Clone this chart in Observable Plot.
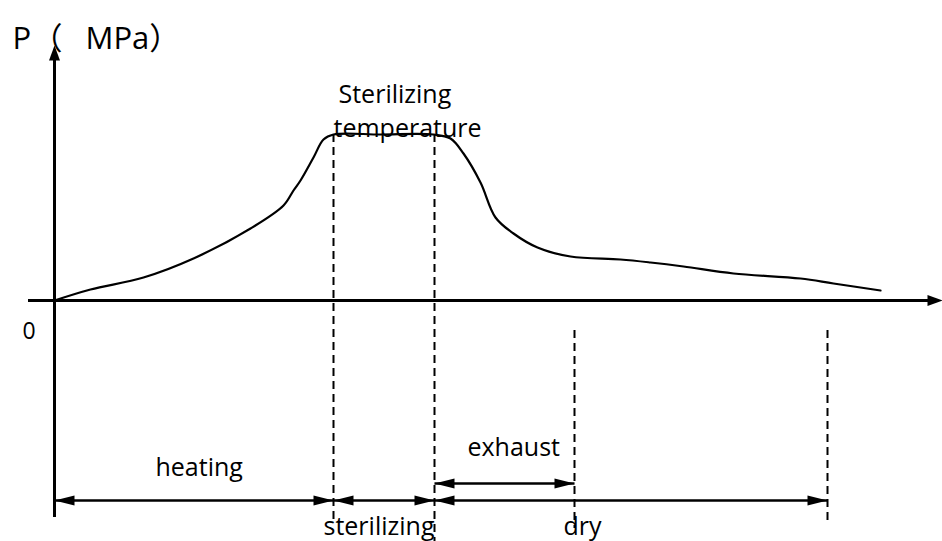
<!DOCTYPE html>
<html><head><meta charset="utf-8">
<script src="https://cdn.jsdelivr.net/npm/d3@7"></script>
<script src="https://cdn.jsdelivr.net/npm/@observablehq/plot@0.6"></script>
<style>body{margin:0;background:#fff} svg{display:block}</style>
</head><body><div id="chart"></div>
<script>
// Pressure curve (time units, pressure units; schematic)
const curveT = [0, 36, 89, 139, 196, 229, 239, 246, 259, 269, 279, 326, 379, 396, 409, 426, 441, 459, 483, 516, 566, 596, 629, 679, 746, 779, 826];
const curveP = [0, 11, 23, 42, 72, 95, 110, 120, 143, 161, 166, 166, 166, 162, 147, 118, 83, 67, 53, 44, 41, 38, 34, 27, 22, 17, 10];

// Phase boundaries (dashed guide lines)
const guideT    = [279, 380, 520, 773];
const guideTop  = [166, 166, -30, -30];
const guideBot  = [-222, -241, -228, -222];

// Phase spans (double-headed arrows)
const phaseNames = ["heating", "sterilizing", "dry", "exhaust"];
const phaseStart = [0, 279, 380, 380];
const phaseEnd   = [279, 380, 773, 520];
const phaseLevel = [-200, -200, -200, -183];

// Axis extents
const xAxisExtent = [-26, 888];
const yAxisExtent = [-217, 255];

// Text labels
const labelText = ["P", "（", "MPa）", "0", "Sterilizing", "temperature", "heating", "exhaust", "sterilizing", "dry"];
const labelX    = [-42, -23, 31, -32, 284, 279, 101, 413, 269, 509];
const labelY    = [252, 252, 252, -38, 198, 164, -175, -155, -234, -234];
const labelSize = [31, 31, 31, 23, 25, 25, 25, 25, 25, 25];

const curve = curveT.map((t, i) => ({t, p: curveP[i]}));
const guides = guideT.map((t, i) => ({t, y1: guideTop[i], y2: guideBot[i]}));
const spans = phaseNames.map((n, i) => ({n, x1: phaseStart[i], x2: phaseEnd[i], y: phaseLevel[i]}));
const heads = spans.flatMap(s => [{x: s.x1, y: s.y, r: 180}, {x: s.x2, y: s.y, r: 0}]);
const axisHeads = [{x: xAxisExtent[1], y: 0, r: 0}, {x: 0, y: yAxisExtent[1], r: -90}];
const labels = labelText.map((text, i) => ({text, x: labelX[i], y: labelY[i], s: labelSize[i]}));

const arrowHead = (len, half) => ({draw(ctx) { ctx.moveTo(0, 0); ctx.lineTo(-len, -half); ctx.lineTo(-len, half); ctx.closePath(); }});

const font = "'Open Sans', 'Noto Sans CJK SC', sans-serif";

const chart = Plot.plot({
  width: 942, height: 541,
  margin: 0,
  x: {domain: [-54, 888], range: [0, 942], axis: null},
  y: {domain: [-241, 300], range: [541, 0], axis: null},
  style: {background: "#fff"},
  marks: [
    Plot.ruleY([0], {x1: xAxisExtent[0], x2: xAxisExtent[1] - 10, stroke: "#000", strokeWidth: 3}),
    Plot.ruleX([0], {y1: yAxisExtent[0], y2: yAxisExtent[1] - 10, stroke: "#000", strokeWidth: 3}),
    Plot.dot(axisHeads, {x: "x", y: "y", rotate: "r", symbol: arrowHead(15, 5.5), fill: "#000", stroke: null}),
    Plot.ruleX(guides, {x: "t", y1: "y1", y2: "y2", stroke: "#000", strokeWidth: 2, strokeDasharray: "8,5"}),
    Plot.line(curve, {x: "t", y: "p", curve: "catmull-rom", stroke: "#000", strokeWidth: 2.2}),
    Plot.link(spans, {x1: "x1", x2: "x2", y1: "y", y2: "y", stroke: "#000", strokeWidth: 2.5}),
    Plot.dot(heads, {x: "x", y: "y", rotate: "r", symbol: arrowHead(20, 5), fill: "#000", stroke: null}),
    Plot.text(labels, {x: "x", y: "y", text: "text", fontSize: "s", textAnchor: "start", lineAnchor: "bottom", fill: "#000", fontFamily: font})
  ]
});
document.getElementById("chart").appendChild(chart);
</script>
</body></html>
